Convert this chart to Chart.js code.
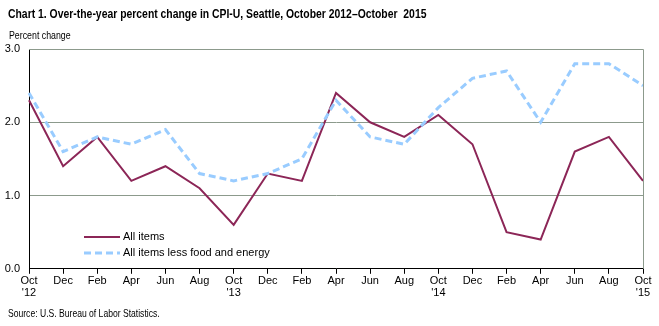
<!DOCTYPE html>
<html>
<head>
<meta charset="utf-8">
<script src="https://cdn.jsdelivr.net/npm/chart.js@4/dist/chart.umd.min.js"></script>
<style>
  html, body { margin: 0; padding: 0; background: #fff; }
  #wrap { width: 659px; height: 326px; position: relative; }
</style>
</head>
<body>
<div id="wrap"><canvas id="c" width="659" height="326"></canvas></div>
<script>
// Bimonthly periods, October 2012 through October 2015
const months = ['Oct', 'Dec', 'Feb', 'Apr', 'Jun', 'Aug', 'Oct', 'Dec', 'Feb', 'Apr', 'Jun', 'Aug', 'Oct', 'Dec', 'Feb', 'Apr', 'Jun', 'Aug', 'Oct'];
const yearMarks = ["'12", '', '', '', '', '', "'13", '', '', '', '', '', "'14", '', '', '', '', '', "'15"];

// Over-the-year percent change, CPI-U Seattle
const allItems = [2.3, 1.4, 1.8, 1.2, 1.4, 1.1, 0.6, 1.3, 1.2, 2.4, 2.0, 1.8, 2.1, 1.7, 0.5, 0.4, 1.6, 1.8, 1.2];
const coreItems = [2.4, 1.6, 1.8, 1.7, 1.9, 1.3, 1.2, 1.3, 1.5, 2.3, 1.8, 1.7, 2.2, 2.6, 2.7, 2.0, 2.8, 2.8, 2.5];

const yTicks = [0, 1, 2, 3];

const seriesNames = ['All items', 'All items less food and energy'];
const maroon = '#8C2657';
const lightBlue = '#99CCFF';

const FONT = '"Liberation Sans", Arial, sans-serif';

const labels = months.map((m, i) => yearMarks[i] ? [m, yearMarks[i]] : m);

// Condensed text: regular face squeezed horizontally
function narrowText(ctx, text, x, y, font, squeeze) {
  ctx.save();
  ctx.font = font + ' ' + FONT;
  ctx.translate(x, y);
  ctx.scale(squeeze, 1);
  ctx.fillText(text, 0, 0);
  ctx.restore();
}

// Title, axis caption, source note, plot frame and in-plot legend
const decorations = {
  id: 'decorations',
  afterDraw(chart) {
    const ctx = chart.ctx;
    const a = chart.chartArea;
    ctx.save();
    // frame on the top and right of the plot area
    ctx.strokeStyle = '#8C9A8C';
    ctx.lineWidth = 1;
    ctx.beginPath();
    ctx.moveTo(a.left, Math.round(a.top) + 0.5);
    ctx.lineTo(Math.round(a.right) + 0.5, Math.round(a.top) + 0.5);
    ctx.lineTo(Math.round(a.right) + 0.5, a.bottom);
    ctx.stroke();

    ctx.fillStyle = '#000';
    ctx.textBaseline = 'middle';
    ctx.textAlign = 'left';
    narrowText(ctx, 'Chart 1. Over-the-year percent change in CPI-U, Seattle, October 2012\u2013October  2015', 8, 14, 'bold 13px', 0.8);
    narrowText(ctx, 'Percent change', 9, 36, '11px', 0.8);
    narrowText(ctx, 'Source: U.S. Bureau of Labor Statistics.', 8, 314, '11px', 0.78);

    // legend
    const lx0 = 84, lx1 = 120, tx = 123;
    const rows = [237, 253];
    ctx.lineWidth = 2;
    ctx.strokeStyle = maroon;
    ctx.beginPath();
    ctx.moveTo(lx0, rows[0]); ctx.lineTo(lx1, rows[0]);
    ctx.stroke();
    ctx.lineWidth = 3;
    ctx.strokeStyle = lightBlue;
    ctx.setLineDash([7, 4]);
    ctx.beginPath();
    ctx.moveTo(lx0, rows[1]); ctx.lineTo(lx1, rows[1]);
    ctx.stroke();
    ctx.setLineDash([]);
    ctx.fillStyle = '#000';
    ctx.font = '11px ' + FONT;
    ctx.fillText(seriesNames[0], tx, rows[0]);
    ctx.fillText(seriesNames[1], tx, rows[1]);
    ctx.restore();
  }
};

new Chart(document.getElementById('c'), {
  type: 'line',
  data: {
    labels: labels,
    datasets: [
      {
        label: seriesNames[1],
        data: coreItems,
        borderColor: lightBlue,
        borderWidth: 3,
        borderDash: [7, 4],
        pointRadius: 0,
        tension: 0,
        fill: false
      },
      {
        label: seriesNames[0],
        data: allItems,
        borderColor: maroon,
        borderWidth: 2,
        pointRadius: 0,
        tension: 0,
        fill: false
      }
    ]
  },
  options: {
    responsive: false,
    animation: false,
    events: [],
    layout: { padding: { top: 49, right: 16, bottom: 26, left: 0 } },
    plugins: {
      legend: { display: false },
      title: { display: false },
      tooltip: { enabled: false }
    },
    scales: {
      x: {
        type: 'category',
        offset: false,
        border: { display: true, color: '#000', width: 1 },
        grid: {
          display: true,
          drawOnChartArea: false,
          drawTicks: true,
          tickLength: 5,
          color: '#000'
        },
        ticks: {
          autoSkip: false,
          maxRotation: 0,
          padding: 1,
          color: '#000',
          font: { family: FONT, size: 11, lineHeight: 1.1 }
        }
      },
      y: {
        min: 0,
        max: 3,
        afterBuildTicks(scale) { scale.ticks = yTicks.map(v => ({ value: v })); },
        afterFit(scale) { scale.width = 29; },
        border: { display: true, color: '#000', width: 1 },
        grid: {
          color: '#8C9A8C',
          drawTicks: false
        },
        ticks: {
          padding: 9,
          color: '#000',
          font: { family: FONT, size: 11 },
          callback: v => v.toFixed(1)
        }
      }
    }
  },
  plugins: [decorations]
});
</script>
</body>
</html>
